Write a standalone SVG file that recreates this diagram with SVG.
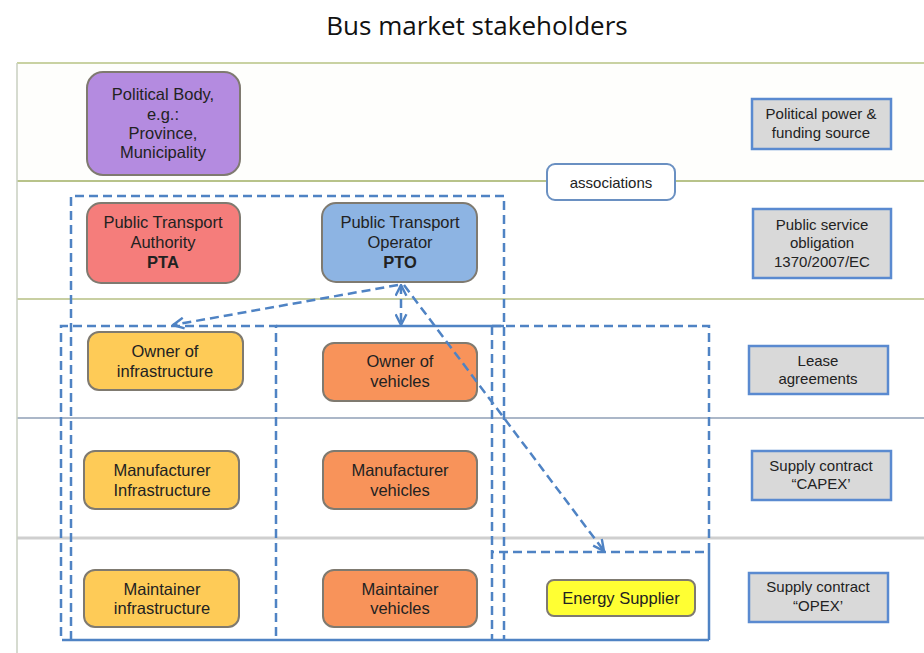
<svg xmlns="http://www.w3.org/2000/svg" width="924" height="653" viewBox="0 0 924 653">
<defs>
<style>
.title{font-family:"Open Sans","Liberation Sans",sans-serif;font-size:26px;fill:#111;text-anchor:middle}
.t{font-family:"Liberation Sans",Arial,sans-serif;font-size:16.5px;fill:#222;text-anchor:middle}
.r{font-family:"Liberation Sans",Arial,sans-serif;font-size:15px;fill:#222;text-anchor:middle}
.b{font-weight:bold}
.node{stroke:#7f7a70;stroke-width:2}
.label{fill:#d9d9d9;stroke:#5a8ad0;stroke-width:2.5}
.dash{fill:none;stroke:#4f83c4;stroke-width:2.5;stroke-dasharray:9 5}
.solid{fill:none;stroke:#4f83c4;stroke-width:2.5}
.arrow{fill:none;stroke:#4f83c4;stroke-width:2.5;stroke-dasharray:9 5}
</style>
<marker id="arr" viewBox="0 0 12 12" refX="11" refY="6" markerWidth="13" markerHeight="13" markerUnits="userSpaceOnUse" orient="auto-start-reverse">
<path d="M1,1 L11,6 L1,11" fill="none" stroke="#4f83c4" stroke-width="2.2" stroke-dasharray="none"/>
</marker>
</defs>
<rect width="924" height="653" fill="#ffffff"/>
<text class="title" x="477" y="35">Bus market stakeholders</text>

<g id="lanes">
<rect x="17" y="63" width="907" height="118" fill="#fefefc"/>
<line x1="17" y1="63" x2="924" y2="63" stroke="#c9d2a2" stroke-width="2"/>
<line x1="17" y1="181" x2="924" y2="181" stroke="#b8c38a" stroke-width="2"/>
<line x1="17" y1="299" x2="924" y2="299" stroke="#c8cfa2" stroke-width="2"/>
<line x1="17" y1="418" x2="924" y2="418" stroke="#8f9fb6" stroke-width="1.5"/>
<line x1="17" y1="538" x2="924" y2="538" stroke="#cfcfcf" stroke-width="3"/>
<line x1="17" y1="63" x2="17" y2="653" stroke="#c9cfc0" stroke-width="1.5"/>
</g>

<g id="containers">
<path class="dash" d="M71,640 V196 H504 V640"/>
<path class="dash" d="M71,640 H61 V326 H276 V640"/>
<path class="solid" d="M276,326 H504"/>
<path class="dash" d="M492,326 V640"/>
<path class="dash" d="M492,326 H709 V552 H492"/>
<path class="solid" d="M709,552 V640"/>
<path class="solid" d="M71,640 H709"/>
</g>

<g id="political-body">
<rect class="node" x="87" y="72" width="153" height="103" rx="16" fill="#b48be0"/>
<text class="t" x="163" y="100">Political Body,</text>
<text class="t" x="163" y="120">e.g.:</text>
<text class="t" x="163" y="139">Province,</text>
<text class="t" x="163" y="158">Municipality</text>
</g>

<g id="pta">
<rect class="node" x="87" y="203" width="153" height="80" rx="14" fill="#f57d7b"/>
<text class="t" x="163" y="228">Public Transport</text>
<text class="t" x="163" y="248">Authority</text>
<text class="t b" x="163" y="268">PTA</text>
</g>

<g id="pto">
<rect class="node" x="322" y="203" width="155" height="79" rx="14" fill="#8db4e3"/>
<text class="t" x="400" y="228">Public Transport</text>
<text class="t" x="400" y="248">Operator</text>
<text class="t b" x="400" y="268">PTO</text>
</g>

<g id="associations">
<rect x="547" y="164" width="128" height="36" rx="8" fill="#ffffff" stroke="#6a90c2" stroke-width="2"/>
<text class="r" x="611" y="188">associations</text>
</g>

<g id="owner-infrastructure">
<rect class="node" x="88" y="332" width="155" height="58" rx="11" fill="#fecb57"/>
<text class="t" x="165" y="357">Owner of</text>
<text class="t" x="165" y="377">infrastructure</text>
</g>
<g id="manufacturer-infrastructure">
<rect class="node" x="84" y="451" width="155" height="58" rx="11" fill="#fecb57"/>
<text class="t" x="162" y="476">Manufacturer</text>
<text class="t" x="162" y="496">Infrastructure</text>
</g>
<g id="maintainer-infrastructure">
<rect class="node" x="84" y="570" width="155" height="57" rx="11" fill="#fecb57"/>
<text class="t" x="162" y="595">Maintainer</text>
<text class="t" x="162" y="614">infrastructure</text>
</g>

<g id="owner-vehicles">
<rect class="node" x="323" y="343" width="154" height="58" rx="11" fill="#f8935a"/>
<text class="t" x="400" y="367">Owner of</text>
<text class="t" x="400" y="387">vehicles</text>
</g>
<g id="manufacturer-vehicles">
<rect class="node" x="323" y="451" width="154" height="58" rx="11" fill="#f8935a"/>
<text class="t" x="400" y="476">Manufacturer</text>
<text class="t" x="400" y="496">vehicles</text>
</g>
<g id="maintainer-vehicles">
<rect class="node" x="323" y="570" width="154" height="57" rx="11" fill="#f8935a"/>
<text class="t" x="400" y="595">Maintainer</text>
<text class="t" x="400" y="614">vehicles</text>
</g>

<g id="energy-supplier">
<rect class="node" x="547" y="580" width="148" height="36" rx="7" fill="#ffff33" stroke="#8d8a45"/>
<text class="t" x="621" y="604">Energy Supplier</text>
</g>

<g id="label-political">
<rect class="label" x="752" y="99" width="139" height="50"/>
<text class="r" x="821" y="119">Political power &amp;</text>
<text class="r" x="821" y="138">funding source</text>
</g>
<g id="label-pso">
<rect class="label" x="753" y="209" width="138" height="69"/>
<text class="r" x="822" y="230">Public service</text>
<text class="r" x="822" y="248">obligation</text>
<text class="r" x="822" y="267">1370/2007/EC</text>
</g>
<g id="label-lease">
<rect class="label" x="749" y="346" width="139" height="48"/>
<text class="r" x="818" y="366">Lease</text>
<text class="r" x="818" y="384">agreements</text>
</g>
<g id="label-capex">
<rect class="label" x="752" y="451" width="139" height="49"/>
<text class="r" x="821" y="471">Supply contract</text>
<text class="r" x="821" y="489">“CAPEX’</text>
</g>
<g id="label-opex">
<rect class="label" x="749" y="573" width="139" height="49"/>
<text class="r" x="818" y="592">Supply contract</text>
<text class="r" x="818" y="611">“OPEX’</text>
</g>

<g id="connectors">
<path class="arrow" d="M398,285 L173,325" marker-end="url(#arr)"/>
<path class="arrow" d="M401,285 V325" marker-start="url(#arr)" marker-end="url(#arr)"/>
<path class="arrow" d="M404,285 L604,551" marker-end="url(#arr)"/>
</g>
</svg>
